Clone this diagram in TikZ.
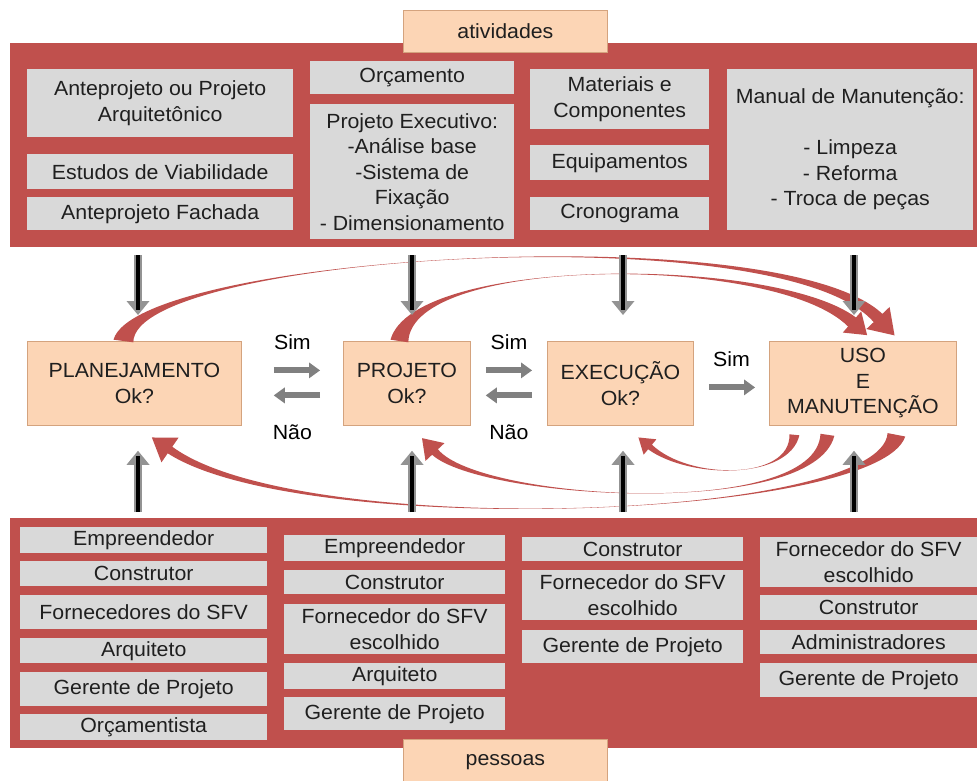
\documentclass[tikz,border=0pt]{standalone}
\usepackage{fontspec}
\setmainfont[FakeStretch=1.04]{Liberation Sans}
\usetikzlibrary{arrows.meta,calc}

\definecolor{bandred}{HTML}{C0504D}
\definecolor{boxgray}{HTML}{D9D9D9}
\definecolor{peach}{HTML}{FCD5B5}
\definecolor{peachline}{HTML}{D4A37E}
\definecolor{arrowgray}{HTML}{808080}
\definecolor{ink}{HTML}{1F1F1F}

\tikzset{
  band/.style={fill=bandred},
  tab/.style={draw=peachline, line width=0.8pt, fill=peach, anchor=north west, inner sep=0pt, text=ink},
  cell/.style={fill=boxgray, anchor=north west, inner sep=0pt, align=center, text=ink},
  stage/.style={draw=peachline, line width=0.8pt, fill=peach, anchor=north west, inner sep=0pt, align=center, text=ink},
  choice/.style={draw=arrowgray, line width=6pt, -{Triangle[width=16pt,length=11pt,line width=0pt]}},
  feeddown/.style={draw=gray!85, line width=8pt, -{Triangle[width=23pt,length=14pt,line width=0pt]}, shorten >=26pt,
    postaction={draw=black, line width=4pt, -, shorten >=31pt}},
  feedup/.style={draw=gray!85, line width=8pt, -{Triangle[width=23pt,length=14pt,line width=0pt]}, shorten >=25pt,
    postaction={draw=black, line width=4pt, -, shorten >=30pt}},
  backflow/.style={fill=bandred},
}

% start, control 1, control 2, end, half width at start, half width at end, half width of head, head length
\newcommand{\bentarrow}[8]{%
  \fill[backflow] ($(#1)!#5!90:(#2)$)
    .. controls ($(#2)!0.25*#5!90:(#1)$) and ($(#3)!0.25*#6!-90:(#4)$) .. ($(#4)!#6!-90:(#3)$)
    -- ($(#4)!#7!-90:(#3)$) -- ($(#4)!#8!180:(#3)$) -- ($(#4)!#7!90:(#3)$)
    -- ($(#4)!#6!90:(#3)$)
    .. controls ($(#3)!0.25*#6!90:(#4)$) and ($(#2)!0.25*#5!-90:(#1)$) .. ($(#1)!#5!-90:(#2)$) -- cycle;}

\begin{document}
\begin{tikzpicture}[x=1pt, y=-1pt, font=\fontsize{20.5}{25.5}\selectfont]
  \useasboundingbox[fill=white] (0,0) rectangle (977,781);

  \fill[band] (10,43) rectangle (977,247);
  \fill[band] (10,518) rectangle (977,748);

  \node[tab, minimum width=204pt, minimum height=42pt] (atividades) at (403,10) {atividades};
  \node[tab, minimum width=204pt, minimum height=46pt] (pessoas) at (403,739) {pessoas};

  \node[cell, minimum width=266pt, minimum height=68pt] (arq) at (27,69) {Anteprojeto ou Projeto\\Arquitetônico};
  \node[cell, minimum width=266pt, minimum height=35pt] (viab) at (27,154) {Estudos de Viabilidade};
  \node[cell, minimum width=266pt, minimum height=33pt] (fach) at (27,197) {Anteprojeto Fachada};
  \node[cell, minimum width=204pt, minimum height=33pt] (orc) at (310,61) {Orçamento};
  \node[cell, minimum width=204pt, minimum height=135pt] (exe) at (310,104) {Projeto Executivo:\\-Análise base\\-Sistema de\\Fixação\\- Dimensionamento};
  \node[cell, minimum width=179pt, minimum height=60pt] (mat) at (530,69) {Materiais e\\Componentes};
  \node[cell, minimum width=179pt, minimum height=35pt] (equip) at (530,145) {Equipamentos};
  \node[cell, minimum width=179pt, minimum height=33pt] (crono) at (530,197) {Cronograma};
  \node[cell, minimum width=246pt, minimum height=161pt] (manual) at (727,69) {Manual de Manutenção:\\ \\- Limpeza\\- Reforma\\- Troca de peças};

  \node[stage, minimum width=214pt, minimum height=84pt] (plan) at (27,341) {PLANEJAMENTO\\Ok?};
  \node[stage, minimum width=127pt, minimum height=84pt] (proj) at (343,341) {PROJETO\\Ok?};
  \node[stage, minimum width=146pt, minimum height=84pt] (exec) at (547,341) {EXECUÇÃO\\Ok?};
  \node[stage, minimum width=187pt, minimum height=84pt] (uso) at (769,341) {USO\\E\\MANUTENÇÃO};

  \node[cell, minimum width=247pt, minimum height=26pt] (emp1) at (20,527) {Empreendedor};
  \node[cell, minimum width=247pt, minimum height=25pt] (cons1) at (20,561) {Construtor};
  \node[cell, minimum width=247pt, minimum height=34pt] (forn1) at (20,595) {Fornecedores do SFV};
  \node[cell, minimum width=247pt, minimum height=25pt] (arq1) at (20,638) {Arquiteto};
  \node[cell, minimum width=247pt, minimum height=34pt] (ger1) at (20,672) {Gerente de Projeto};
  \node[cell, minimum width=247pt, minimum height=26pt] (orc1) at (20,714) {Orçamentista};

  \node[cell, minimum width=221pt, minimum height=26pt] (emp2) at (284,535) {Empreendedor};
  \node[cell, minimum width=221pt, minimum height=24pt] (cons2) at (284,570) {Construtor};
  \node[cell, minimum width=221pt, minimum height=50pt] (forn2) at (284,604) {Fornecedor do SFV\\escolhido};
  \node[cell, minimum width=221pt, minimum height=26pt] (arq2) at (284,663) {Arquiteto};
  \node[cell, minimum width=221pt, minimum height=33pt] (ger2) at (284,697) {Gerente de Projeto};

  \node[cell, minimum width=221pt, minimum height=24pt] (cons3) at (522,537) {Construtor};
  \node[cell, minimum width=221pt, minimum height=50pt] (forn3) at (522,570) {Fornecedor do SFV\\escolhido};
  \node[cell, minimum width=221pt, minimum height=33pt] (ger3) at (522,630) {Gerente de Projeto};

  \node[cell, minimum width=217pt, minimum height=50pt] (forn4) at (760,537) {Fornecedor do SFV\\escolhido};
  \node[cell, minimum width=217pt, minimum height=25pt] (cons4) at (760,595) {Construtor};
  \node[cell, minimum width=217pt, minimum height=24pt] (adm4) at (760,630) {Administradores};
  \node[cell, minimum width=217pt, minimum height=34pt] (ger4) at (760,663) {Gerente de Projeto};

  \coordinate (fromplan) at ([xshift=-11pt]plan.north);
  \coordinate (fromproj) at ([xshift=-7.5pt]proj.north);
  \coordinate (usofar) at (878,318);
  \coordinate (usonear) at (852,322);
  \bentarrow{fromplan}{135,255}{780,215}{usofar}{10pt}{6pt}{16pt}{24pt}
  \bentarrow{fromproj}{412,255}{775,255}{usonear}{9pt}{6pt}{14pt}{20pt}

  \coordinate (usoa) at ([xshift=-68.5pt,yshift=-9pt]uso.south);
  \coordinate (usob) at ([xshift=-35.5pt,yshift=-9pt]uso.south);
  \coordinate (usoc) at ([xshift=33.5pt,yshift=-9pt]uso.south);
  \coordinate (toexec) at (650,447);
  \coordinate (toproj) at (435,452);
  \coordinate (toplan) at (170,450);
  \bentarrow{usoa}{790,480}{690,480}{toexec}{5pt}{3pt}{10pt}{15pt}
  \bentarrow{usob}{815,520}{480,500}{toproj}{7pt}{4pt}{13pt}{19pt}
  \bentarrow{usoc}{880,520}{300,540}{toplan}{9pt}{4pt}{15pt}{22pt}

  \foreach \stg/\xx in {plan/138, proj/412, exec/623, uso/854} {
    \coordinate (top\stg) at (\xx,255);
    \coordinate (bot\stg) at (\xx,512);
    \draw[feeddown] (top\stg) -- (top\stg |- \stg.north);
    \draw[feedup] (bot\stg) -- (bot\stg |- \stg.south);
  }

  \draw[choice, shorten <=32pt, shorten >=23pt] ([yshift=13pt]plan.east) -- node[yshift=28pt] {Sim} ([yshift=13pt]proj.west);
  \draw[choice, shorten <=23pt, shorten >=32pt] ([yshift=-12pt]proj.west) -- node[yshift=-37pt] {Não} ([yshift=-12pt]plan.east);
  \draw[choice, shorten <=15pt, shorten >=15pt] ([yshift=13pt]proj.east) -- node[yshift=28pt] {Sim} ([yshift=13pt]exec.west);
  \draw[choice, shorten <=15pt, shorten >=15pt] ([yshift=-12pt]exec.west) -- node[yshift=-37pt] {Não} ([yshift=-12pt]proj.east);
  \draw[choice, shorten <=15pt, shorten >=14pt] ([yshift=-4pt]exec.east) -- node[yshift=28pt] {Sim} ([yshift=-4pt]uso.west);
\end{tikzpicture}
\end{document}
